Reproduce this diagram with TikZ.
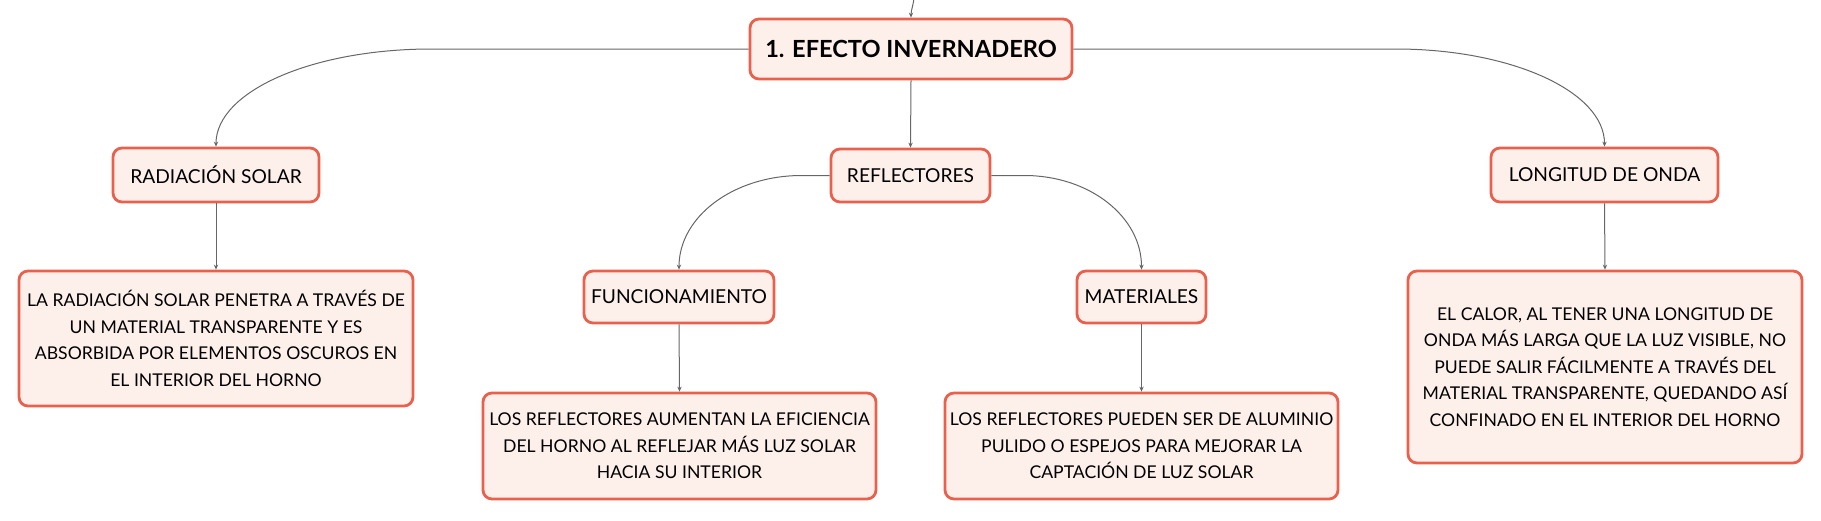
\documentclass[tikz,border=0pt]{standalone}
\usepackage{fontspec}
\setmainfont{Lato}
\usetikzlibrary{arrows.meta}
\definecolor{boxborder}{HTML}{E9614D}
\definecolor{boxfill}{HTML}{FDF0EB}
\definecolor{linkgray}{HTML}{666666}
\tikzset{
  mbox/.style={draw=boxborder, fill=boxfill, line width=1.4pt, rounded corners=4.5pt,
    inner sep=0pt, align=center, text=black},
  labelbox/.style={mbox, font=\fontsize{9.6}{11}\selectfont},
  textbox/.style={mbox, font=\fontsize{8.8}{13.3}\selectfont},
  rootbox/.style={mbox, font=\fontsize{11.8}{14}\selectfont\bfseries},
  link/.style={draw=linkgray, line width=0.5pt, -{Stealth[length=2.5pt,width=2.2pt]}}
}
\begin{document}
\begin{tikzpicture}[x=0.5pt,y=-0.5pt]
\useasboundingbox (0,0) rectangle (1821,520);
% nodes
\node[rootbox, minimum width=161pt, minimum height=30pt] (root) at (911,49) {1. EFECTO INVERNADERO};
\node[labelbox, minimum width=103pt, minimum height=27pt] (rad) at (216,175) {RADIACIÓN SOLAR};
\node[labelbox, minimum width=79.5pt, minimum height=26.5pt] (refl) at (910.5,175.5) {REFLECTORES};
\node[labelbox, minimum width=113.5pt, minimum height=27pt] (lon) at (1604.5,175) {LONGITUD DE ONDA};
\node[labelbox, minimum width=95pt, minimum height=26pt] (func) at (679,297) {FUNCIONAMIENTO};
\node[labelbox, minimum width=64.5pt, minimum height=26pt] (mat) at (1141.5,297) {MATERIALES};
\node[textbox, minimum width=197pt, minimum height=67.5pt] (radtext) at (216,338.5)
  {LA RADIACIÓN SOLAR PENETRA A TRAVÉS DE\\UN MATERIAL TRANSPARENTE Y ES\\ABSORBIDA POR ELEMENTOS OSCUROS EN\\EL INTERIOR DEL HORNO};
\node[textbox, minimum width=196.5pt, minimum height=53pt] (functext) at (679.5,446)
  {LOS REFLECTORES AUMENTAN LA EFICIENCIA\\DEL HORNO AL REFLEJAR MÁS LUZ SOLAR\\HACIA SU INTERIOR};
\node[textbox, minimum width=196.5pt, minimum height=53pt] (mattext) at (1141.5,446)
  {LOS REFLECTORES PUEDEN SER DE ALUMINIO\\PULIDO O ESPEJOS PARA MEJORAR LA\\CAPTACIÓN DE LUZ SOLAR};
\node[textbox, minimum width=197pt, minimum height=96pt] (lontext) at (1605,367)
  {EL CALOR, AL TENER UNA LONGITUD DE\\ONDA MÁS LARGA QUE LA LUZ VISIBLE, NO\\PUEDE SALIR FÁCILMENTE A TRAVÉS DEL\\MATERIAL TRANSPARENTE, QUEDANDO ASÍ\\CONFINADO EN EL INTERIOR DEL HORNO};
\coordinate (parent) at (914,-4);
% connectors
\draw[link] (parent) .. controls +(0,8) and +(0,-8) .. (root.north);
\draw[link] (root.west) -- ++(-317,0) .. controls +(-120,0) and +(0,-55) .. (rad.north);
\draw[link] (root.east) -- ++(322,0) .. controls +(116,0) and +(0,-55) .. (lon.north);
\draw[link] (root.south) -- (refl.north);
\draw[link] (refl.west) -- ++(-28,0) .. controls +(-68,0) and +(0,-53) .. (func.north);
\draw[link] (refl.east) -- ++(33,0) .. controls +(65,0) and +(0,-53) .. (mat.north);
\draw[link] (rad.south) -- (radtext.north);
\draw[link] (func.south) -- (functext.north);
\draw[link] (mat.south) -- (mattext.north);
\draw[link] (lon.south) -- (lontext.north);
\end{tikzpicture}
\end{document}
